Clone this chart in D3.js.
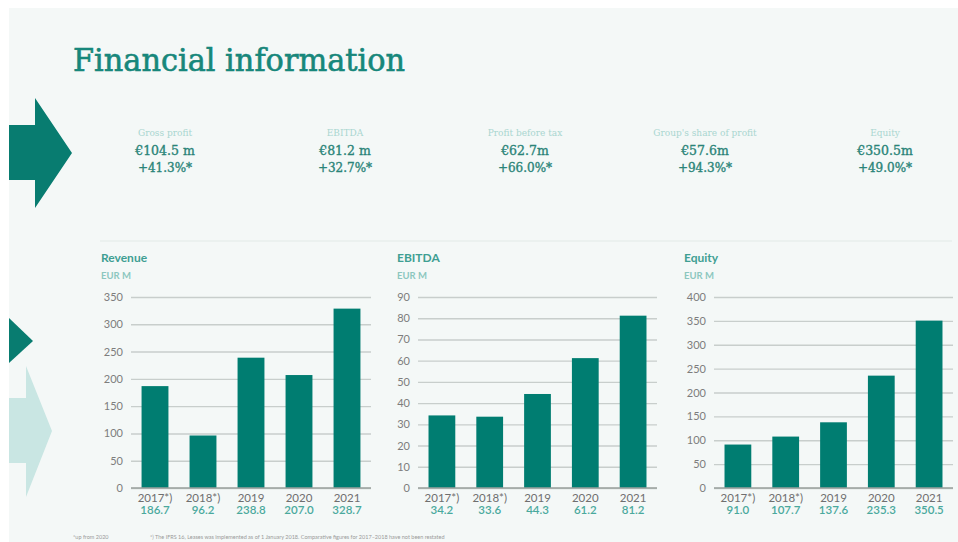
<!DOCTYPE html>
<html>
<head>
<meta charset="utf-8">
<script src="https://cdn.jsdelivr.net/npm/d3@7"></script>
<style>
  html, body { margin: 0; padding: 0; background: #ffffff; }
  svg { display: block; }
</style>
</head>
<body>
<div id="chart"></div>
<script>
// Key figures on top
const kpiLabels = ["Gross profit", "EBITDA", "Profit before tax", "Group's share of profit", "Equity"];
const kpiValues = ["€104.5 m", "€81.2 m", "€62.7m", "€57.6m", "€350.5m"];
const kpiChanges = ["+41.3%*", "+32.7%*", "+66.0%*", "+94.3%*", "+49.0%*"];

// Bar chart data
const years = ["2017*)", "2018*)", "2019", "2020", "2021"];
const revenue = [186.7, 96.2, 238.8, 207.0, 328.7];
const ebitda = [34.2, 33.6, 44.3, 61.2, 81.2];
const equity = [91.0, 107.7, 137.6, 235.3, 350.5];
const revenueTicks = [0, 50, 100, 150, 200, 250, 300, 350];
const ebitdaTicks = [0, 10, 20, 30, 40, 50, 60, 70, 80, 90];
const equityTicks = [0, 50, 100, 150, 200, 250, 300, 350, 400];

const width = 958;
const height = 542;

const teal = "#007d71";
const tealLight = "#a9d6d0";
const sans = "Lato, 'Open Sans', sans-serif";
const serif = "'DejaVu Serif', serif";

const svg = d3.create("svg")
  .attr("width", width)
  .attr("height", height)
  .attr("viewBox", [0, 0, width, height]);

d3.select("#chart").append(() => svg.node());

// Background panel
svg.append("rect")
  .attr("x", 9).attr("y", 8)
  .attr("width", width - 9).attr("height", height - 8)
  .attr("fill", "#f4f8f7");

// Decorative arrows on the left
svg.append("path")
  .attr("fill", "#087c70")
  .attr("d", "M9,125 L35,125 L35,98 L72,153 L35,208 L35,180 L9,180 Z");
svg.append("path")
  .attr("fill", "#087c70")
  .attr("d", "M9,318 L33,341 L9,363 Z");
svg.append("path")
  .attr("fill", "#c9e6e3")
  .attr("d", "M9,398 L26,398 L26,366 L52,431 L26,497 L26,463 L9,463 Z");

// Title
svg.append("text")
  .attr("x", 73).attr("y", 71)
  .attr("font-family", serif)
  .attr("font-size", 31)
  .attr("fill", "#17877b")
  .attr("stroke", "#17877b").attr("stroke-width", 0.6)
  .attr("textLength", 332)
  .attr("lengthAdjust", "spacingAndGlyphs")
  .text("Financial information");

// KPI row
const kpiX = d3.scalePoint(kpiLabels, [165, 885]);
const kpi = svg.append("g").attr("text-anchor", "middle").attr("font-family", serif);
kpiLabels.forEach((label, i) => {
  const cx = kpiX(label);
  kpi.append("text").attr("x", cx).attr("y", 136)
    .attr("font-size", 9).attr("fill", tealLight).text(label);
  kpi.append("text").attr("x", cx).attr("y", 155)
    .attr("font-size", 12.5).attr("fill", "#2a8478")
    .attr("stroke", "#2a8478").attr("stroke-width", 0.35).text(kpiValues[i]);
  kpi.append("text").attr("x", cx).attr("y", 172)
    .attr("font-size", 12).attr("fill", "#2a8478")
    .attr("stroke", "#2a8478").attr("stroke-width", 0.35).text(kpiChanges[i]);
});

// Separator
svg.append("line")
  .attr("x1", 100).attr("x2", 952)
  .attr("y1", 241).attr("y2", 241)
  .attr("stroke", "#e2eae8").attr("stroke-width", 1.2);

// Bar charts
const charts = [
  {title: "Revenue", values: revenue, ticks: revenueTicks, titleX: 101, range: [131, 371]},
  {title: "EBITDA", values: ebitda, ticks: ebitdaTicks, titleX: 397, range: [418, 657]},
  {title: "Equity", values: equity, ticks: equityTicks, titleX: 684, range: [714, 953]}
];

const yTop = 297;
const yBottom = 488;

charts.forEach(c => {
  const g = svg.append("g");

  const x = d3.scaleBand(years, c.range).paddingInner(0.44).paddingOuter(0.22);
  const y = d3.scaleLinear([0, d3.max(c.ticks)], [yBottom, yTop]);

  g.append("text")
    .attr("x", c.titleX).attr("y", 262)
    .attr("font-family", sans).attr("font-weight", 700)
    .attr("font-size", 12).attr("fill", "#3f9f93")
    .text(c.title);
  g.append("text")
    .attr("x", c.titleX).attr("y", 279)
    .attr("font-family", sans).attr("font-weight", 700)
    .attr("font-size", 9.5).attr("fill", "#8cc7bf")
    .text("EUR M");

  // Y axis with gridlines
  g.append("g")
    .attr("transform", `translate(${c.range[0]},0)`)
    .call(d3.axisLeft(y).tickValues(c.ticks).tickSize(0).tickPadding(8))
    .call(a => a.select(".domain").remove())
    .call(a => a.selectAll(".tick text")
      .attr("font-family", sans).attr("font-size", 11).attr("fill", "#7d7d7d"))
    .call(a => a.selectAll(".tick line").clone()
      .attr("x2", c.range[1] - c.range[0])
      .attr("stroke", "#c8cecc").attr("stroke-width", 1.4));

  // Bars
  g.append("g")
    .selectAll("rect")
    .data(c.values)
    .join("rect")
    .attr("x", (d, i) => x(years[i]))
    .attr("y", d => y(d))
    .attr("width", x.bandwidth())
    .attr("height", d => y(0) - y(d))
    .attr("fill", teal);

  // Baseline
  g.append("line")
    .attr("x1", c.range[0]).attr("x2", c.range[1])
    .attr("y1", y(0)).attr("y2", y(0))
    .attr("stroke", "#9aa09e").attr("stroke-width", 1.5);

  // Year labels and values under bars
  const lab = g.append("g").attr("text-anchor", "middle").attr("font-family", sans);
  years.forEach((yr, i) => {
    const cx = x(yr) + x.bandwidth() / 2;
    lab.append("text").attr("x", cx).attr("y", 502)
      .attr("font-size", 11.5).attr("fill", "#6f6f6f").text(yr);
    lab.append("text").attr("x", cx).attr("y", 514)
      .attr("font-size", 11.5).attr("font-weight", 600).attr("fill", "#4aa99d")
      .text(d3.format(".1f")(c.values[i]));
  });
});

// Footnotes
svg.append("text")
  .attr("x", 73).attr("y", 539)
  .attr("font-family", sans).attr("font-size", 5.5).attr("fill", "#9a9a9a")
  .text("*up from 2020");
svg.append("text")
  .attr("x", 150).attr("y", 539)
  .attr("font-family", sans).attr("font-size", 5.5).attr("fill", "#9a9a9a")
  .text("*) The IFRS 16, Leases was implemented as of 1 January 2018. Comparative figures for 2017–2018 have not been restated");
</script>
</body>
</html>
